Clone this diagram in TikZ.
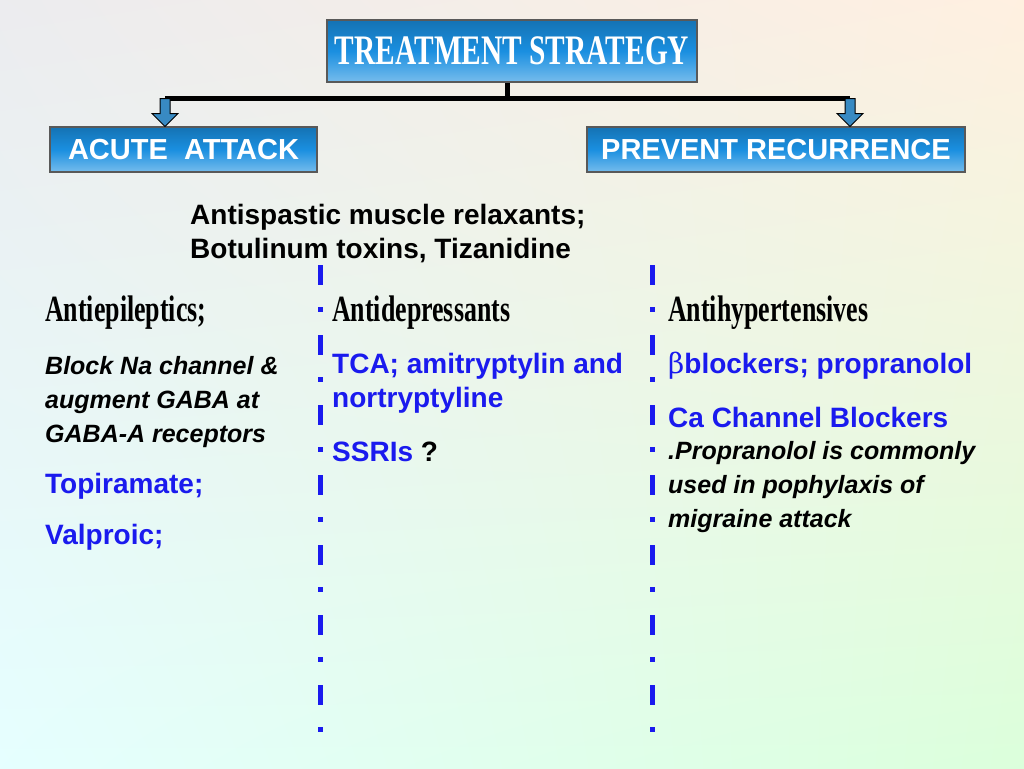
\documentclass[tikz,border=0pt]{standalone}
\usepackage{fontspec}
\setmainfont{Liberation Sans}
\newfontfamily\headfont{Liberation Serif Bold}[FakeStretch=0.7]
\newfontfamily\symfont{DejaVu Serif}
\usetikzlibrary{shapes.arrows,calc,shadings}
\definecolor{txtblue}{HTML}{1A1AEE}
\definecolor{boxblue}{HTML}{1A8FE0}
\begin{document}
\begin{tikzpicture}[x=1pt,y=-1pt,
  bx/.style={draw=gray!70!black,line width=1.5pt,top color=boxblue!80!black,bottom color=boxblue!60!white,middle color=boxblue,text=white,inner sep=0pt},
  hd/.style={anchor=west,font=\headfont\fontsize{37}{37}\selectfont,inner sep=0},
  bt/.style={anchor=west,font=\bfseries\fontsize{28}{34}\selectfont,inner sep=0,align=left},
  it/.style={anchor=west,font=\bfseries\itshape\fontsize{25}{34}\selectfont,inner sep=0,align=left},
  sep/.style={txtblue,line width=5pt,dash pattern=on 20pt off 22pt on 5pt off 23pt},
  arr/.style={single arrow,draw=black,fill=boxblue!70!gray,shape border rotate=270,minimum height=28pt,minimum width=26pt,single arrow head extend=4pt,inner sep=2pt,line width=1pt}]
\shade[upper left=blue!8!gray!14,upper right=orange!12,lower left=cyan!10,lower right=green!14] (0,0) rectangle (1024,768);
\node[bx,minimum width=370pt,minimum height=62pt,font=\headfont\fontsize{42}{42}\selectfont] (ts) at (512,51) {TREATMENT STRATEGY};
\node[bx,minimum width=267pt,minimum height=45pt,font=\bfseries\fontsize{29}{29}\selectfont] (aa) at (183.5,149.5) {ACUTE\ \ ATTACK};
\node[bx,minimum width=378pt,minimum height=45pt,font=\bfseries\fontsize{29}{29}\selectfont] (pr) at (776,149.5) {PREVENT RECURRENCE};
\coordinate (j) at (507,98);
\coordinate (l) at (165,98);
\coordinate (r) at (850,98);
\draw[line width=5pt] (ts.south -| j) -- (j);
\draw[line width=5pt] (l) -- (r);
\node[arr,anchor=north] (al) at (l) {};
\node[arr,anchor=north] (ar) at (r) {};
\node[bt] (as) at (190,234) {Antispastic muscle relaxants;\\Botulinum toxins, Tizanidine};
\coordinate (s1t) at (320,265); \coordinate (s1b) at (320,740);
\coordinate (s2t) at (652,265); \coordinate (s2b) at (652,740);
\draw[sep] (s1t) -- (s1b);
\draw[sep] (s2t) -- (s2b);
\node[hd] (h1) at (45,313) {Antiepileptics;};
\node[it] (b1) at (45,402) {Block Na channel \&\\augment GABA at\\GABA-A receptors};
\node[bt,text=txtblue] (t1) at (45,486) {Topiramate;};
\node[bt,text=txtblue] (v1) at (45,537) {Valproic;};
\node[hd] (h2) at (332,313) {Antidepressants};
\node[bt,text=txtblue] (tca) at (332,383) {TCA; amitryptylin and\\nortryptyline};
\node[bt] (ss) at (332,452) {\textcolor{txtblue}{SSRIs} ?};
\node[hd] (h3) at (668,313) {Antihypertensives};
\node[bt,text=txtblue] (bb) at (668,366) {{\symfont\mdseries β}blockers; propranolol};
\node[bt,text=txtblue] (ca) at (668,417) {Ca Channel Blockers};
\node[it] (pp) at (668,487) {.Propranolol is commonly\\used in pophylaxis of\\migraine attack};
\end{tikzpicture}
\end{document}
